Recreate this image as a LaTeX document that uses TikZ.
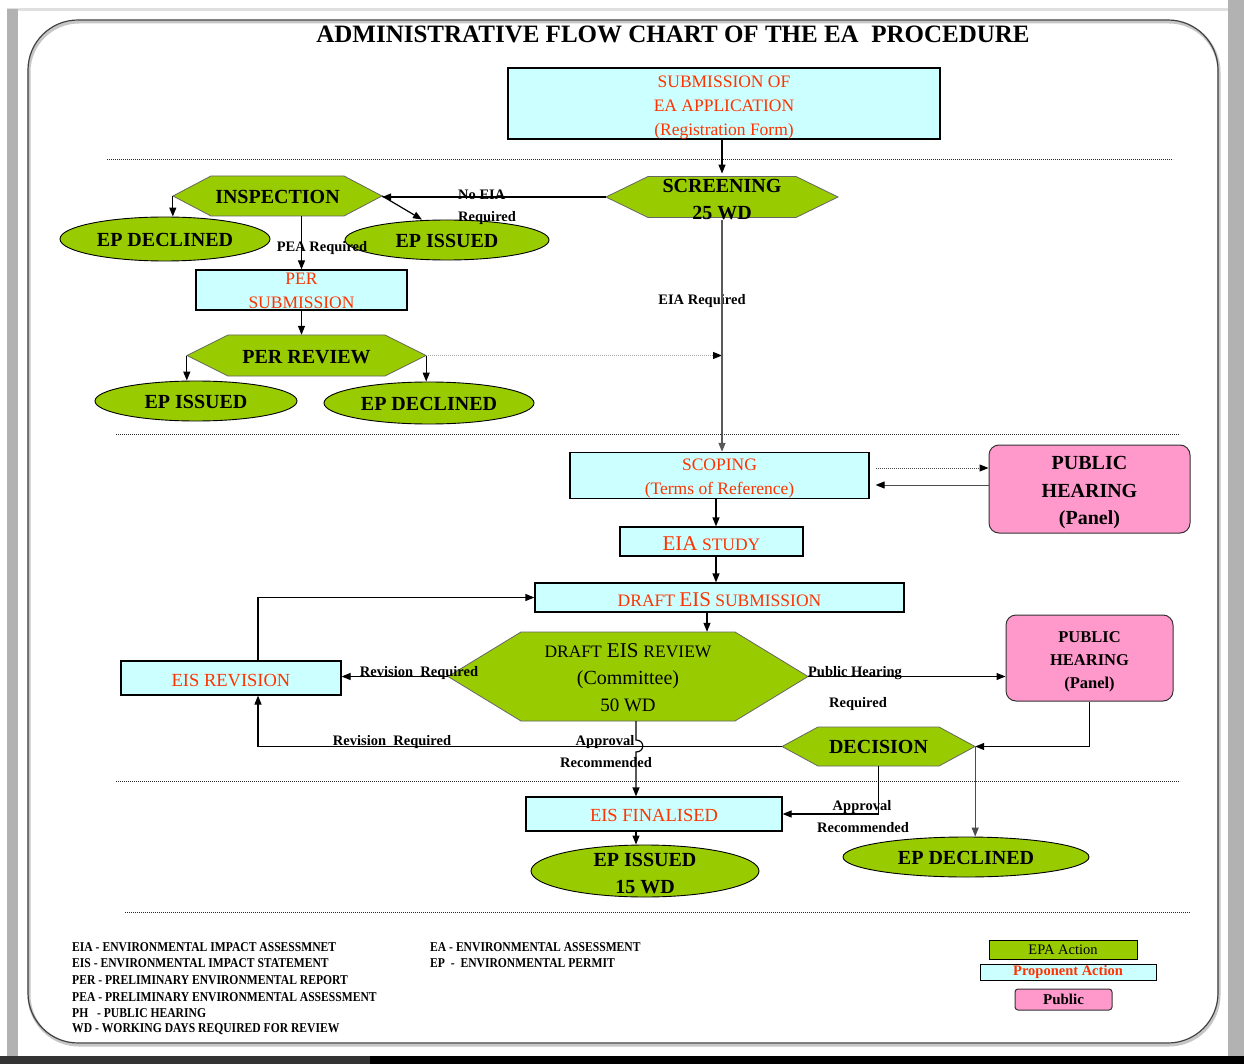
\documentclass[tikz,border=0pt]{standalone}
\usepackage{fontspec}
\setmainfont{Liberation Serif}
\newfontfamily\condfont[FakeStretch=0.86]{Liberation Serif}
\usetikzlibrary{shapes.geometric,arrows.meta,calc}
\definecolor{epagreen}{HTML}{99CC00}
\definecolor{propcyan}{HTML}{CCFFFF}
\definecolor{pubpink}{HTML}{FF99CC}
\definecolor{redtxt}{HTML}{FF3300}
\newcommand\fsz[2]{\fontsize{#1}{#2}\selectfont}
\newcommand\tup[1]{\rule{0pt}{\dimexpr\fontcharht\font`\E+#1\relax}}
\newcommand\hexnode[7]{%
  \draw[hexshape] ({#2-#4},#3) -- ({#2-#4+#6},{#3-#5}) -- ({#2+#4-#6},{#3-#5}) -- ({#2+#4},#3) -- ({#2+#4-#6},{#3+#5}) -- ({#2-#4+#6},{#3+#5}) -- cycle;
  \node[hextext, minimum width={(2*#4)*1pt}, minimum height={(2*#5)*1pt}] (#1) at (#2,#3) {#7};
}
\tikzset{
  hexshape/.style={fill=epagreen, draw=black!60, line width=0.8pt},
  hextext/.style={inner sep=0pt, align=center, font=\fsz{20}{27}\bfseries},
  epell/.style={ellipse, fill=epagreen, draw=black, line width=0.9pt, inner sep=0pt, font=\fsz{20}{27}\bfseries, align=center},
  propbox/.style={rectangle, fill=propcyan, draw=black, line width=1.2pt, inner sep=0pt, text=redtxt, align=center, font=\fsz{17.5}{24}},
  pubbox/.style={rectangle, rounded corners=10pt, fill=pubpink, draw=black!80, line width=1pt, inner sep=0pt, align=center},
  lbl/.style={inner sep=0pt, font=\fsz{14.5}{22}\bfseries, align=center},
  arr/.style={line width=1.2pt, -{Triangle[length=9pt,width=7pt]}},
  dotarr/.style={line width=1pt, black!70, dash pattern=on 1.2pt off 0.8pt, -{Triangle[length=9pt,width=7pt,color=black]}},
  sepline/.style={line width=1pt, black!85, dash pattern=on 1.2pt off 0.8pt},
  legtxt/.style={inner sep=0pt, anchor=west, font=\condfont\fsz{13.5}{16}\bfseries},
}
\begin{document}
\begin{tikzpicture}[x=1pt,y=-1pt]
\useasboundingbox (0,0) rectangle (1244,1064);
\fill[white] (0,0) rectangle (1244,1064);
% page edges
\fill[gray!25] (7,8) rectangle (1228,11);
\fill[gray!60] (7,9) rectangle (18,1056);
\fill[gray!60] (1228,0) rectangle (1244,1056);
\fill[black!80] (0,1056) rectangle (370,1064);
\fill[black] (370,1056) rectangle (1244,1064);
% rounded frame
\draw[gray!45, line width=3pt, rounded corners=50pt] (29,22) rectangle (1219,1045);
\draw[black!75, line width=1.2pt, rounded corners=50pt] (28,20) rectangle (1218,1043);

% title
\node[inner sep=0pt, font=\fsz{25}{30}\bfseries] (title) at (673,34) {ADMINISTRATIVE FLOW CHART OF THE EA\ \ PROCEDURE};

% separators
\coordinate (s1a) at (107,160); \coordinate (s1b) at (1173,160);
\coordinate (s2a) at (116,434); \coordinate (s2b) at (1180,434);
\coordinate (s3a) at (116,781); \coordinate (s3b) at (1180,781);
\coordinate (s4a) at (125,912); \coordinate (s4b) at (1190,912);
\draw[sepline] (s1a) -- (s1b);
\draw[sepline] (s2a) -- (s2b);
\draw[sepline] (s3a) -- (s3b);
\draw[sepline] (s4a) -- (s4b);

% helper x-positions
\coordinate (spine) at (716,0);
\coordinate (spine2) at (707,0);
\coordinate (revx) at (258,0);
\coordinate (apx) at (636,0);

% nodes
\node[propbox, minimum width=432pt, minimum height=71pt, line width=1.5pt] (sub) at (724,103.5) {\tup{8pt}SUBMISSION OF\\EA APPLICATION\\(Registration Form)};
\hexnode{scr}{722}{197}{116}{20.5}{42}{\tup{6pt}SCREENING\\25 WD}
\hexnode{insp}{277.5}{196}{104.5}{20}{38}{\tup{2pt}INSPECTION}
\node[epell, minimum width=210pt, minimum height=44pt] (epdecA) at (165,239) {\tup{2pt}EP DECLINED};
\node[epell, minimum width=204pt, minimum height=40pt] (epissA) at (447,240) {\tup{2pt}EP ISSUED};
\node[propbox, minimum width=211pt, minimum height=40pt] (persub) at (301.5,290) {\tup{2pt}PER\\SUBMISSION};
\hexnode{prev}{306.5}{355.5}{119.5}{20.5}{41}{\tup{3pt}PER REVIEW}
\node[epell, minimum width=202pt, minimum height=40pt] (epissB) at (196,401) {\tup{2pt}EP ISSUED};
\node[epell, minimum width=210pt, minimum height=42pt] (epdecB) at (429,403) {\tup{2pt}EP DECLINED};

\node[propbox, minimum width=299pt, minimum height=45pt] (scop) at (719.5,475.5) {\tup{7pt}SCOPING\\(Terms of Reference)};
\node[pubbox, minimum width=201pt, minimum height=88pt, font=\fsz{20}{27.5}\bfseries] (phA) at (1089.5,489) {\tup{8pt}PUBLIC\\HEARING\\(Panel)};
\node[propbox, minimum width=183pt, minimum height=29pt] (study) at (711.5,541.5) {{\fsz{21}{24}\tup{4pt}EIA} {\fsz{17.5}{24}STUDY}};
\node[propbox, minimum width=369pt, minimum height=29pt] (dsub) at (719.5,597.5) {{\fsz{17.5}{24}DRAFT} {\fsz{21}{24}\tup{4pt}EIS} {\fsz{17.5}{24}SUBMISSION}};
\hexnode{drev}{628}{676.5}{180}{44.5}{73}{\mdseries{\fsz{17.5}{27}DRAFT} {\fsz{21}{27}\tup{3pt}EIS} {\fsz{17.5}{27}REVIEW}\\\mdseries\fsz{20}{27.5}(Committee)\\\mdseries\fsz{19}{26.5}50 WD}
\node[propbox, minimum width=220pt, minimum height=34pt, font=\fsz{18.5}{24}] (eisrev) at (231,678) {\tup{6pt}EIS REVISION};
\node[pubbox, minimum width=167pt, minimum height=86pt, font=\fsz{16.5}{23}\bfseries] (phB) at (1089.5,658) {\tup{7pt}PUBLIC\\HEARING\\(Panel)};
\hexnode{dec}{878.5}{746.5}{96.5}{19.5}{36}{\tup{2pt}DECISION}
\node[propbox, minimum width=256pt, minimum height=34pt, font=\fsz{18.5}{24}] (eisfin) at (654,814) {\tup{4pt}EIS FINALISED};
\node[epell, minimum width=228pt, minimum height=52pt, inner ysep=-12pt] (epissC) at (645,871) {\tup{5pt}EP ISSUED\\15 WD};
\node[epell, minimum width=246pt, minimum height=40pt] (epdecC) at (966,857) {\tup{2pt}EP DECLINED};

% labels
\node[lbl, align=left, anchor=west] (lnoeia) at (458,207) {No EIA\\Required};
\node[lbl] (lpea) at (322,248) {PEA Required};
\node[lbl] (leia) at (702,301) {EIA Required};
\node[lbl] (lrev1) at (419,673) {Revision\ \ Required};
\node[lbl] (lph) at (855,673) {Public Hearing};
\node[lbl] (lphr) at (858,704) {Required};
\node[lbl] (lrev2) at (392,742) {Revision\ \ Required};
\node[lbl] (lapp1) at (605,742) {Approval};
\node[lbl] (lrec1) at (606,763) {Recommended};
\node[lbl] (lapp2) at (862,807) {Approval};
\node[lbl] (lrec2) at (863,828) {Recommended};

% connectors
\draw[arr] (sub.south -| scr.north) -- (scr.north);
\draw[arr] (scr.west) -- (scr.west -| insp.east);
\draw[arr] (insp.west) -- (insp.west |- epdecA.north);
\draw[arr] (insp.east) -- ($(epissA.north)+(-25,0)$);
\draw[arr] (insp.south -| persub.north) -- (persub.north);
\draw[arr] (persub.south) -- (persub.south |- prev.north);
\draw[arr] (prev.west) -- (prev.west |- epissB.north);
\draw[arr] (prev.east) -- (prev.east |- epdecB.north);
\draw[dotarr, gray!70] (prev.east) -- (prev.east -| scr.south);
\draw[arr, gray!70!black] (scr.south) -- (scr.south |- scop.north);
\coordinate (d1) at ($(scop.east)+(6,-7.5)$);
\coordinate (d2) at ($(scop.east)+(6,9.5)$);
\draw[dotarr] (d1) -- (d1 -| phA.west);
\draw[dotarr] (d2 -| phA.west) -- (d2);
\draw[arr] (scop.south -| spine) -- (study.north -| spine);
\draw[arr] (study.south -| spine) -- (dsub.north -| spine);
\draw[arr] (dsub.south -| spine2) -- (drev.north -| spine2);
\draw[arr] (drev.west) -- (drev.west -| eisrev.east);
\draw[arr] (eisrev.north -| revx) |- (dsub.west);
\draw[arr] (drev.east) -- (drev.east -| phB.west);
\draw[arr] (phB.south) |- (dec.east);
\draw[arr] (dec.west) -| (eisrev.south -| revx);
\draw[arr] (drev.south -| apx) -- (636,740) .. controls (645,740) and (645,752) .. (636,752) -- (eisfin.north -| apx);
\draw[arr] (dec.south) |- (eisfin.east);
\draw[arr, gray!60!black] (dec.east) -- (dec.east |- epdecC.north);
\draw[arr] (eisfin.south -| apx) -- (epissC.north -| apx);

% legend
\node[legtxt] (g1) at (72,947) {EIA - ENVIRONMENTAL IMPACT ASSESSMNET};
\node[legtxt] (g2) at (72,963) {EIS - ENVIRONMENTAL IMPACT STATEMENT};
\node[legtxt] (g3) at (72,980) {PER - PRELIMINARY ENVIRONMENTAL REPORT};
\node[legtxt] (g4) at (72,997) {PEA - PRELIMINARY ENVIRONMENTAL ASSESSMENT};
\node[legtxt] (g5) at (72,1013) {PH\ \ \ - PUBLIC HEARING};
\node[legtxt] (g6) at (72,1029) {WD - WORKING DAYS REQUIRED FOR REVIEW};
\node[legtxt] (g7) at (430,947) {EA - ENVIRONMENTAL ASSESSMENT};
\node[legtxt] (g8) at (430,963) {EP\ \ - \ ENVIRONMENTAL PERMIT};

\node[rectangle, fill=epagreen, draw=black, line width=1pt, inner sep=0pt, minimum width=148pt, minimum height=19pt, font=\fsz{14.5}{16}] (kepa) at (1063,949.5) {EPA Action};
\node[rectangle, fill=propcyan, draw=black, line width=1pt, inner sep=0pt, minimum width=176pt, minimum height=16pt, text=redtxt, font=\fsz{14.5}{16}\bfseries] (kprop) at (1068,972) {Proponent Action};
\node[rectangle, rounded corners=3pt, fill=pubpink, draw=black!80, line width=1pt, inner sep=0pt, minimum width=97pt, minimum height=21pt, font=\fsz{15}{16}\bfseries] (kpub) at (1063.5,999.5) {Public};
\end{tikzpicture}
\end{document}
